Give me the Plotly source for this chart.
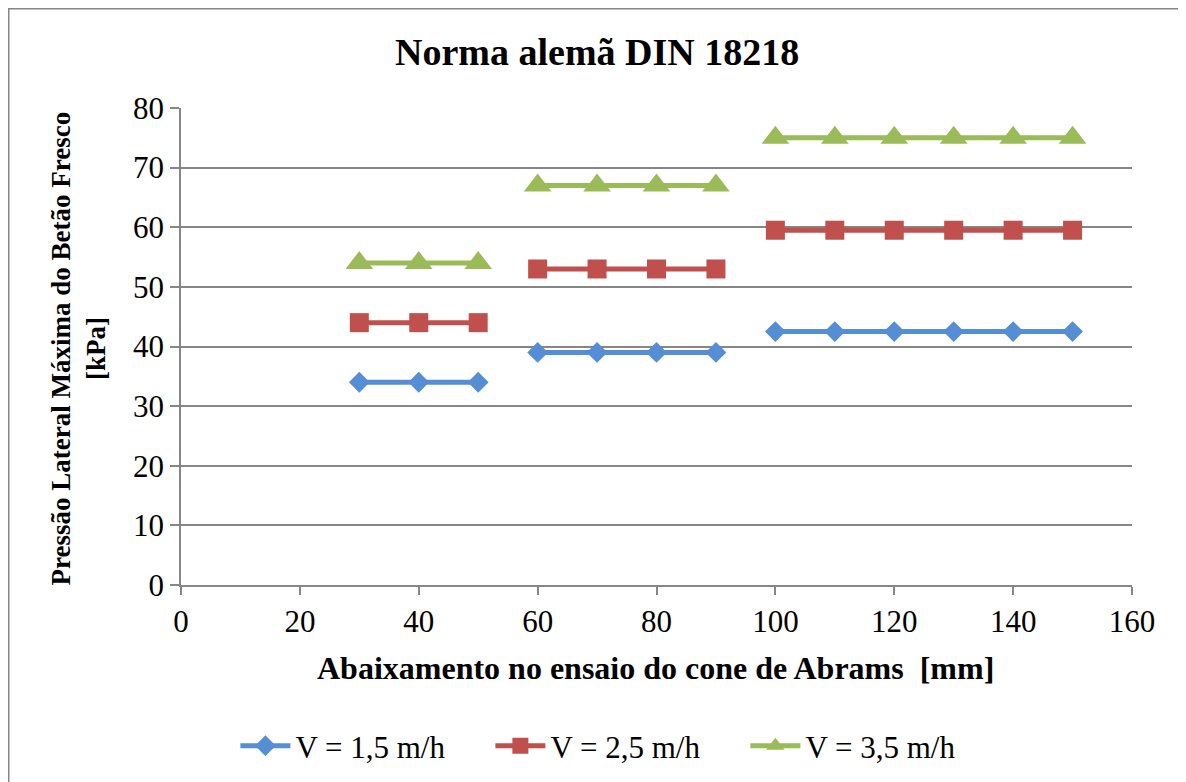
import plotly.graph_objects as go

# abaixamento (mm), with gaps between the slump classes
x_vals = [30, 40, 50, None, 60, 70, 80, 90, None, 100, 110, 120, 130, 140, 150]

p_v15 = [34, 34, 34, None, 39, 39, 39, 39, None, 42.5, 42.5, 42.5, 42.5, 42.5, 42.5]
p_v25 = [44, 44, 44, None, 53, 53, 53, 53, None, 59.5, 59.5, 59.5, 59.5, 59.5, 59.5]
p_v35 = [54, 54, 54, None, 67, 67, 67, 67, None, 75, 75, 75, 75, 75, 75]

series = [
    ("V = 1,5 m/h", p_v15, "#558ED5", "diamond", 16),
    ("V = 2,5 m/h", p_v25, "#C0504D", "square", 19),
    ("V = 3,5 m/h", p_v35, "#9BBB59", "triangle-up", 24),
]

FONT = "Liberation Serif, Times New Roman, serif"

# page body adds ~8px offset, margins compensate
L, T, PW, PH = 173, 100, 951, 477

fig = go.Figure()
for name, ys, color, symbol, size in series:
    fig.add_trace(go.Scatter(
        x=x_vals, y=ys, name=name, mode="lines+markers",
        connectgaps=False,
        line=dict(color=color, width=5),
        marker=dict(symbol=symbol, size=size, color=color),
    ))

fig.update_layout(
    width=1186, height=782,
    margin=dict(l=L, r=1186 - L - PW, t=T, b=782 - T - PH),
    paper_bgcolor="white", plot_bgcolor="white",
    font=dict(family=FONT, size=31, color="black"),
    showlegend=True,
    legend=dict(
        orientation="h", x=0.4594, y=-0.3375, xanchor="center", yanchor="middle",
        font=dict(family=FONT, size=31), itemwidth=50, tracegroupgap=0,
        entrywidth=190, entrywidthmode="pixels",
    ),
    xaxis=dict(
        range=[0, 160], tickvals=[0, 20, 40, 60, 80, 100, 120, 140, 160],
        showgrid=False, zeroline=False,
        showline=True, linecolor="#868686", linewidth=1.5,
        ticks="outside", ticklen=8, tickcolor="#868686", tickwidth=1.5,
        tickfont=dict(family=FONT, size=31),
    ),
    yaxis=dict(
        range=[0, 80], tickvals=[0, 10, 20, 30, 40, 50, 60, 70, 80],
        showgrid=True, gridcolor="#868686", gridwidth=1.5, zeroline=False,
        showline=True, linecolor="#868686", linewidth=1.5,
        ticks="outside", ticklen=9, tickcolor="#868686", tickwidth=1.5,
        tickfont=dict(family=FONT, size=31),
    ),
    shapes=[dict(
        type="rect", xref="paper", yref="paper",
        x0=(0.75 - L) / PW, x1=(1185 - L) / PW,
        y0=-0.6, y1=(T + PH - 0.75) / PH,
        line=dict(color="#868686", width=1.5), fillcolor="rgba(0,0,0,0)",
    )],
    annotations=[
        dict(text="<b>Norma alemã DIN 18218</b>", xref="paper", yref="paper",
             x=0.437, y=1.117, showarrow=False, xanchor="center", yanchor="middle",
             font=dict(family=FONT, size=38)),
        dict(text="<b>Abaixamento no ensaio do cone de Abrams  [mm]</b>",
             xref="paper", yref="paper", x=0.499, y=-0.174, showarrow=False,
             xanchor="center", yanchor="middle", font=dict(family=FONT, size=32)),
        dict(text="<b>Pressão Lateral Máxima do Betão Fresco<br>[kPa]</b>",
             xref="paper", yref="paper", x=-0.1078, y=0.497, showarrow=False,
             xanchor="center", yanchor="middle", textangle=-90,
             font=dict(family=FONT, size=27)),
    ],
)

fig.write_html("out.html")
